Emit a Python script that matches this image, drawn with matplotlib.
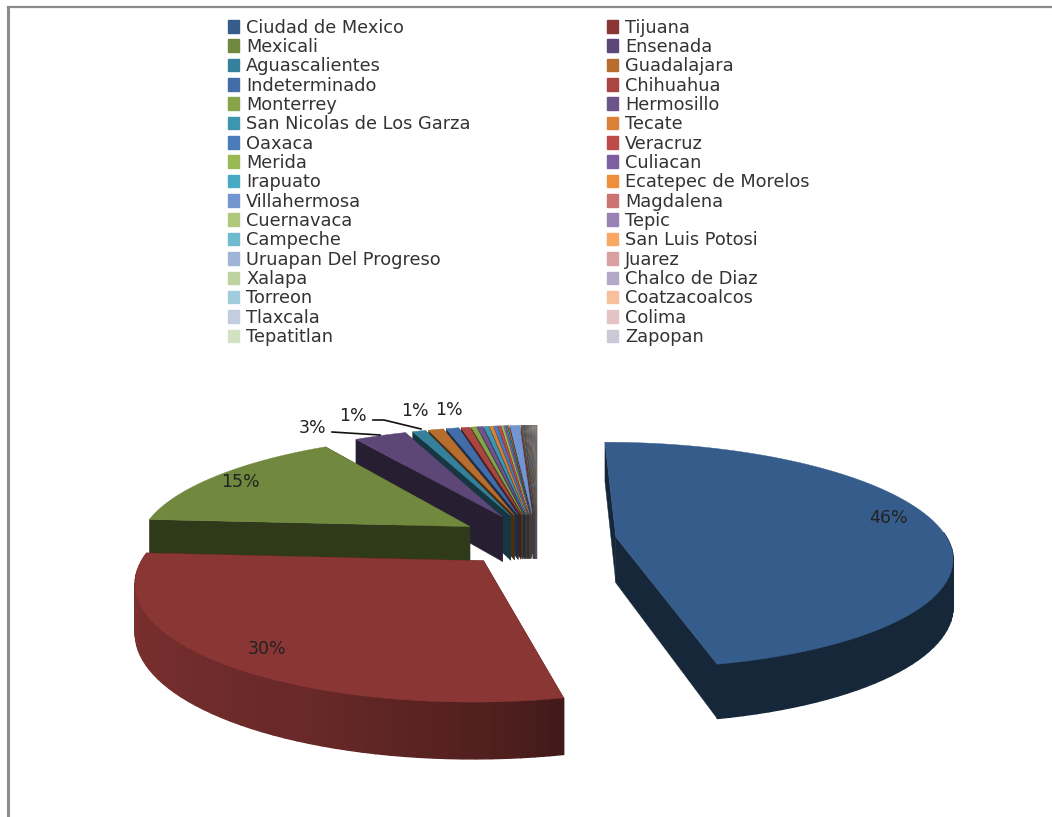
import numpy as np
import matplotlib
matplotlib.use('Agg')
from matplotlib import pyplot as plt
from matplotlib.patches import Patch
from matplotlib.colors import to_rgb

plt.rcParams['font.family'] = ['DejaVu Sans']

cities = ["Ciudad de Mexico", "Tijuana", "Mexicali", "Ensenada", "Aguascalientes", "Guadalajara",
          "Indeterminado", "Chihuahua", "Monterrey", "Hermosillo", "San Nicolas de Los Garza", "Tecate",
          "Oaxaca", "Veracruz", "Merida", "Culiacan", "Irapuato", "Ecatepec de Morelos",
          "Villahermosa", "Magdalena", "Cuernavaca", "Tepic", "Campeche", "San Luis Potosi",
          "Uruapan Del Progreso", "Juarez", "Xalapa", "Chalco de Diaz", "Torreon", "Coatzacoalcos",
          "Tlaxcala", "Colima", "Tepatitlan", "Zapopan"]
shares = [46.4, 29.6, 15.0, 3.0, 0.75, 0.85,
          0.72, 0.5, 0.28, 0.3, 0.28, 0.2,
          0.2, 0.15, 0.12, 0.1, 0.08, 0.07,
          0.55, 0.05, 0.05, 0.05, 0.05, 0.05,
          0.05, 0.05, 0.05, 0.05, 0.05, 0.05,
          0.05, 0.05, 0.05, 0.05]
colors = ["#355c8a", "#8a3635", "#71893f", "#5c4776", "#35819b", "#b66d2d",
          "#426da9", "#ab4542", "#86a44a", "#6e548d", "#3d96ae", "#da8137",
          "#4b7bba", "#be4b48", "#98b954", "#7d5fa0", "#46aac5", "#f08f3a",
          "#7396d0", "#cd7371", "#afc97a", "#9983b5", "#6ebacf", "#f9a765",
          "#a0b4d8", "#d8a0a0", "#bed3a0", "#b3a8c8", "#a0cddc", "#f8bf9d",
          "#c3cde0", "#e3c3c3", "#d4e2c4", "#cbc8d8"]
pct_text = ["46%", "30%", "15%", "3%", "1%", "1%", "1%"]

# view of the 3d pie, in pixels
cx, cy = 537, 540
radius = 332
tilt = 111
depth = 46
persp = 0.161
explode = 0.24


def project(x, y, z=0.0):
    w = 1 + persp * y
    return cx + radius * x / w, cy - (tilt * y + depth * z) / w


def shade(col, f):
    return tuple(c * f for c in to_rgb(col))


def side_factor(deg):
    # arc side gets lighter towards the left of the chart
    return np.interp(deg, [0, 166, 167, 175, 200, 240, 275, 360],
                     [0.42, 0.42, 0.48, 0.57, 0.74, 0.85, 0.9, 0.9])


def draw_slice(ax, t0, t1, col):
    mid = np.radians((t0 + t1) / 2)
    ox, oy = explode * np.sin(mid), explode * np.cos(mid)
    th = np.radians(np.linspace(t0, t1, max(3, int(t1 - t0) // 2)))
    xs = ox + np.sin(th)
    ys = oy + np.cos(th)
    kw = dict(lw=1.0, zorder=2)

    # cut faces
    for t in (t0, t1):
        ex, ey = ox + np.sin(np.radians(t)), oy + np.cos(np.radians(t))
        px = [ox, ex, ex, ox]
        py = [oy, ey, ey, oy]
        pz = [0, 0, -1, -1]
        sx, sy = project(np.array(px), np.array(py), np.array(pz))
        c = shade(col, 0.42)
        ax.fill(sx, sy, color=c, lw=0.3, zorder=2)

    # outer wall, only the part turned to the viewer shows
    for i in range(len(th) - 1):
        if np.cos((th[i] + th[i + 1]) / 2) > 0.05:
            continue
        px = np.array([xs[i], xs[i + 1], xs[i + 1], xs[i]])
        py = np.array([ys[i], ys[i + 1], ys[i + 1], ys[i]])
        pz = np.array([0, 0, -1, -1])
        sx, sy = project(px, py, pz)
        c = shade(col, side_factor(np.degrees(th[i])))
        ax.fill(sx, sy, color=c, **kw)

    # top, the thinnest slices are mostly their dark edge
    sx, sy = project(np.r_[ox, xs], np.r_[oy, ys])
    edge = shade(col, 0.42) if t1 - t0 < 0.3 else col
    ax.fill(sx, sy, facecolor=col, edgecolor=edge, lw=0.3, zorder=2)


fig = plt.figure(figsize=(10.52, 8.17), dpi=100)
ax = fig.add_axes([0, 0, 1, 1])
ax.set_xlim(0, 1052)
ax.set_ylim(817, 0)
ax.axis('off')

# frame of the pasted picture
ax.plot([8, 1052], [7, 7], color='#8c8c8c', lw=1.6)
ax.plot([8, 8], [7, 817], color='#8c8c8c', lw=2.2)

edges = np.r_[0, np.cumsum(shares)] / np.sum(shares) * 360
order = sorted(range(len(shares)), key=lambda i: -np.cos(np.radians(edges[i] + edges[i + 1]) / 2))
for i in order:
    draw_slice(ax, edges[i], edges[i + 1], colors[i])

# leader lines
ax.plot([332, 380], [432, 435], color='#111111', lw=1.2, zorder=3)
ax.plot([373, 384, 421], [420, 420, 429], color='#111111', lw=1.2, zorder=3)

label_pos = [(888, 518), (267, 649), (240, 482), (313, 428), (353, 416), (415, 411), (449, 410)]
for s, (x, y) in zip(pct_text, label_pos):
    ax.text(x, y, s, ha='center', va='center', fontsize=12.5, color='#222222', zorder=4)

# two legend columns, filled row by row
font = 12.8
px = font * 100 / 72
for col_i, x0 in enumerate([228, 607]):
    idx = range(col_i, len(cities), 2)
    handles = [Patch(color=colors[i]) for i in idx]
    names = [cities[i] for i in idx]
    leg = ax.legend(handles, names, loc='upper left', bbox_to_anchor=(x0, 18.5), bbox_transform=ax.transData,
                    frameon=False, fontsize=font, handlelength=11 / px, handleheight=0.7,
                    handletextpad=7 / px, labelspacing=(19.12 - px) / px, borderpad=0, borderaxespad=0,
                    labelcolor='#333333')
    if col_i == 0:
        ax.add_artist(leg)

plt.savefig('out.png', dpi=100)
